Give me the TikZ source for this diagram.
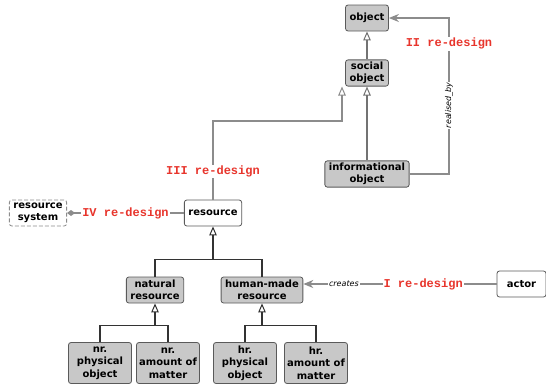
\documentclass[tikz,border=0pt]{standalone}
\usepackage{fontspec}
\setmainfont{DejaVu Sans}
\newfontfamily\codefont{Liberation Mono}
\usepackage{tikz}
\usetikzlibrary{arrows.meta, positioning, calc}
\definecolor{boxgrey}{HTML}{C8C8C8}
\definecolor{edgegrey}{HTML}{5A5A5A}
\definecolor{linkgrey}{HTML}{8C8C8C}
\definecolor{redesignred}{HTML}{E8352C}
\tikzset{
  box/.style={rectangle, rounded corners=2.5pt, draw=edgegrey, line width=0.8pt, fill=boxgrey,
              minimum height=26pt, inner xsep=4pt, inner ysep=2pt,
              font=\fontsize{10}{12.5}\selectfont\bfseries, align=center},
  whitebox/.style={box, fill=white},
  dashbox/.style={box, fill=white, draw=black!45, dash pattern=on 4pt off 2pt},
  leafbox/.style={box, minimum height=41pt, minimum width=63pt, inner xsep=2pt},
  genline/.style={draw=black!80, line width=1.2pt},
  genup/.style={draw=black!55, line width=1.6pt},
  gentip/.style={-{Triangle[open, length=9pt, width=7.5pt, line width=1pt]}},
  redesign/.style={draw=linkgrey, line width=2pt},
  redlabel/.style={fill=white, inner sep=1pt, text=redesignred,
              font=\codefont\fontsize{12}{12}\selectfont\bfseries},
  linklabel/.style={fill=white, inner sep=1pt, font=\fontsize{8}{8}\selectfont\itshape},
}

\begin{document}
\begin{tikzpicture}[x=1pt, y=-1pt]
  \useasboundingbox (0,0) rectangle (546,386);
  % upper part
  \node[box] (obj) at (367,18) {object};
  \node[box] (socialobj) at (367,73) {social\\object};
  \node[box] (infoobj) at (367,174) {informational\\object};
  \node[whitebox] (res) at (213,213) {resource};
  \node[dashbox] (ressys) at (38,213) {resource\\system};
  % resource tree
  \node[box] (natres) at (155,290) {natural\\resource};
  \node[box] (hmres) at (262,290) {human-made\\resource};
  \node[leafbox] (nrphys) at (100,363) {nr.\\physical\\object};
  \node[leafbox] (nramount) at (168,363) {nr.\\amount of\\matter};
  \node[leafbox] (hrphys) at (245,363) {hr.\\physical\\object};
  \node[leafbox] (hramount) at (316,363) {hr.\\amount of\\matter};
  \node[whitebox, minimum width=49pt] (actor) at (521.5,284) {actor};

  % generalisations
  \draw[genup, gentip] (socialobj) -- (obj);
  \draw[genup, gentip] (infoobj) -- (socialobj);
  \path (res.south) ++(0,33) coordinate (jres);
  \draw[genline] (natres.north) |- (jres) -| (hmres.north);
  \draw[genline, gentip] (jres) -- (res.south);
  \path (natres.south) ++(0,22) coordinate (jnat);
  \draw[genline] (nrphys.north) |- (jnat) -| (nramount.north);
  \draw[genline, gentip] (jnat) -- (natres.south);
  \path (hmres.south) ++(0,22) coordinate (jhm);
  \draw[genline] (hrphys.north) |- (jhm) -| (hramount.north);
  \draw[genline, gentip] (jhm) -- (hmres.south);

  % re-design links
  \coordinate (bendII) at (449,18);
  \draw[redesign, -{Stealth[length=10pt, width=8pt]}] (infoobj.east) -| (bendII)
    node[linklabel, rotate=90, pos=0.72] {realised\_by}
    node[redlabel, pos=0.917] {II re-design} -- (obj.east);
  \draw[redesign, gentip] (res.north) -- node[redlabel, pos=0.354] {III re-design}
    ++(0,-79) -| ([xshift=-25pt]socialobj.south);
  \draw[redesign, -{Diamond[length=8pt, width=6pt]}] (res.west)
    -- node[redlabel] {IV re-design} (ressys.east);
  \draw[redesign, -{Stealth[length=10pt, width=8pt]}] (actor.west)
    -- node[redlabel, pos=0.38] {I re-design}
       node[linklabel, pos=0.79] {creates} (actor.west -| hmres.east);
\end{tikzpicture}
\end{document}
